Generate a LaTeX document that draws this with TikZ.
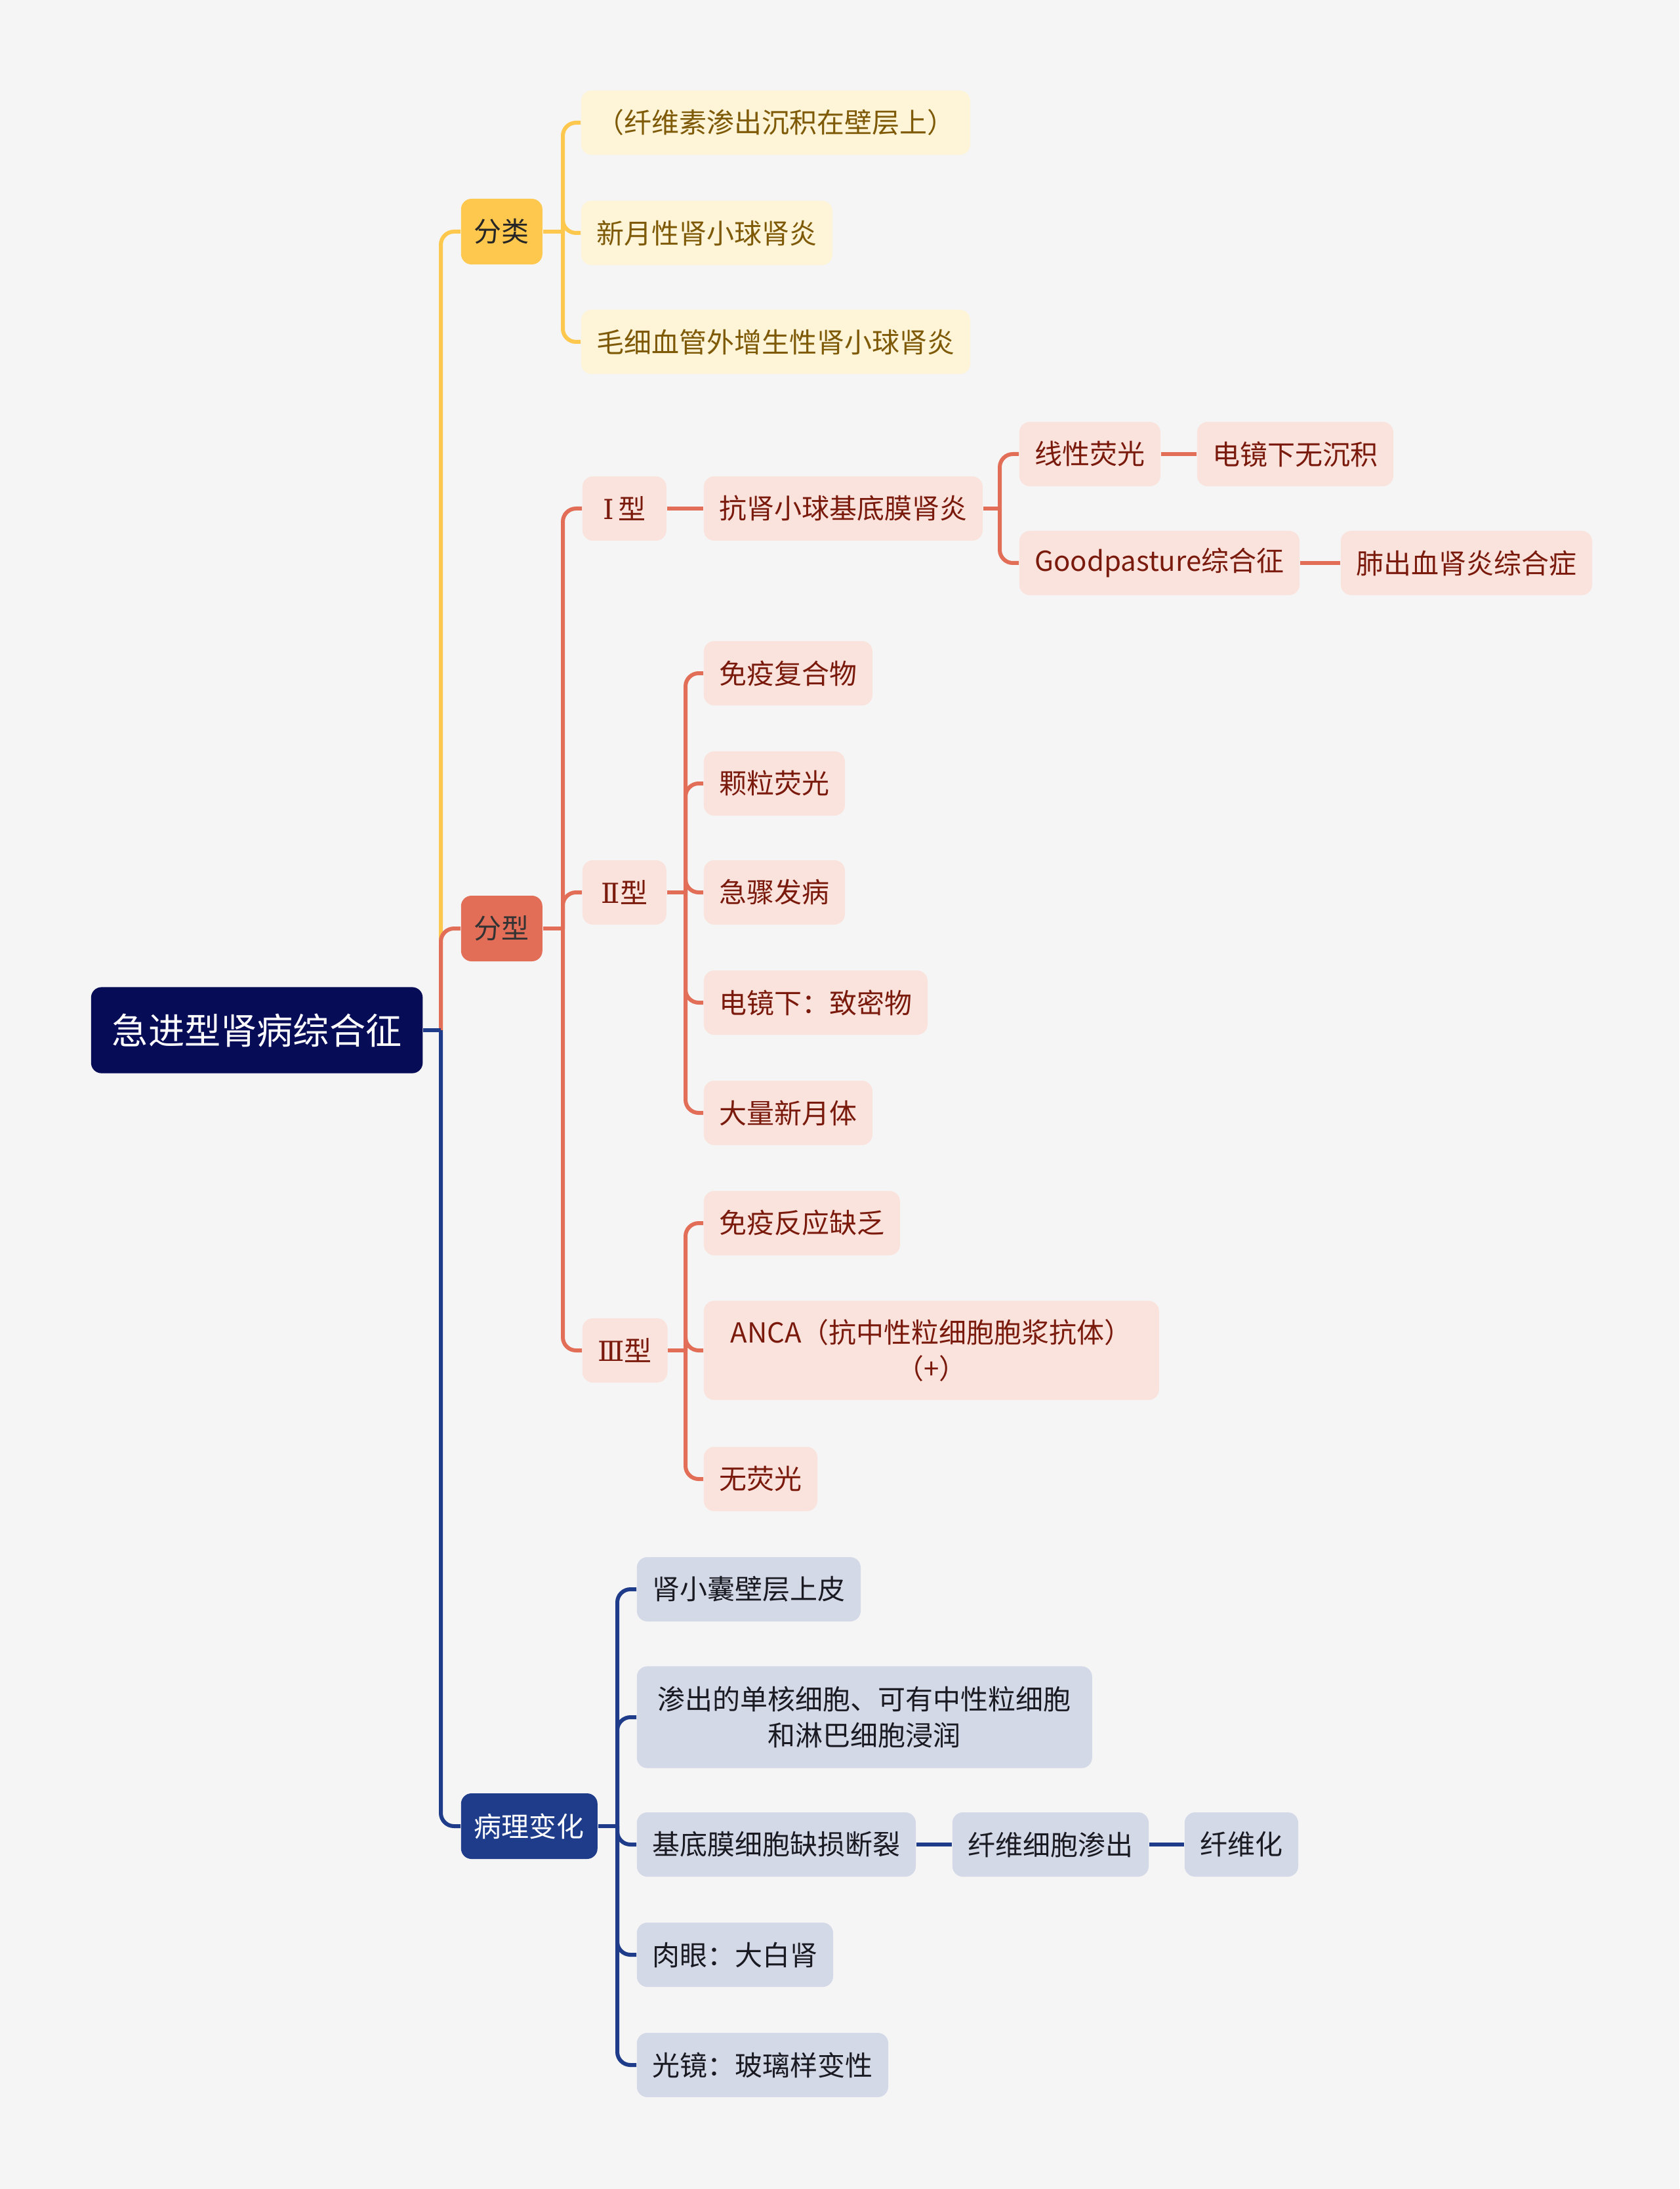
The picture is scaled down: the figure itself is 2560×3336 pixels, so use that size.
\documentclass[tikz,border=0pt]{standalone}
\usepackage{fontspec}
\setmainfont{Noto Sans CJK SC}
\newfontfamily\romfont{DejaVu Serif}
\definecolor{bgc}{HTML}{F5F5F5}
\definecolor{rootc}{HTML}{070C57}
\definecolor{ylc}{HTML}{FDC84D}
\definecolor{ylbox}{HTML}{FEF4D8}
\definecolor{yltext}{HTML}{7E5A06}
\definecolor{sac}{HTML}{E26E58}
\definecolor{sabox}{HTML}{FBE3DD}
\definecolor{satext}{HTML}{7A1A0C}
\definecolor{nvc}{HTML}{1E3C8A}
\definecolor{nvbox}{HTML}{D4D9E8}
\definecolor{nvtext}{HTML}{1A1A22}
\tikzset{
  rootbox/.style={fill=rootc, text=white, rounded corners=4pt, minimum height=32.8pt,
    minimum width=126pt, inner xsep=8pt, font=\fontsize{13.8}{16}\selectfont, anchor=west},
  lone/.style={rounded corners=4pt, minimum height=25pt, inner xsep=5pt,
    font=\fontsize{10.5}{13.8}\selectfont, anchor=west},
  ltwo/.style={rounded corners=4pt, minimum height=24.5pt, inner xsep=5.9pt,
    font=\fontsize{10.5}{13.8}\selectfont, anchor=west},
  ylb/.style={ltwo, fill=ylbox, text=yltext},
  sab/.style={ltwo, fill=sabox, text=satext},
  nvb/.style={ltwo, fill=nvbox, text=nvtext},
  typeb/.style={sab, minimum width=32pt},
  conn/.style={line width=1.5pt, rounded corners=5pt},
  ylline/.style={conn, draw=ylc},
  saline/.style={conn, draw=sac},
  nvline/.style={conn, draw=nvc},
}
\begin{document}
\begin{tikzpicture}[x=0.25pt, y=-0.25pt]
\fill[bgc] (0,0) rectangle (2560,3336);
\useasboundingbox (0,0) rectangle (2560,3336);

% root and level 1
\node[rootbox] (root) at (138,1570) {急进型肾病综合征};
\node[lone, fill=ylc, text=black!85] (fenlei) at (702,353) {分类};
\node[lone, fill=sac, text=black!80] (fenxing) at (702,1415) {分型};
\node[lone, fill=nvc, text=white] (bingli) at (702,2783) {病理变化};

% 分类 children
\node[ylb] (y1) at (885,187) {（纤维素渗出沉积在壁层上）};
\node[ylb] (y2) at (885,355) {新月性肾小球肾炎};
\node[ylb] (y3) at (885,521) {毛细血管外增生性肾小球肾炎};

% 分型 children
\node[typeb] (t1) at (887,775) {{\romfont Ⅰ}\,型};
\node[typeb] (t2) at (887,1360) {{\romfont Ⅱ}型};
\node[typeb] (t3) at (887,2058) {{\romfont Ⅲ}型};
\node[sab] (kang) at (1072,775) {抗肾小球基底膜肾炎};
\node[sab] (xian) at (1553,692) {线性荧光};
\node[sab] (good) at (1553,858) {Goodpasture综合征};
\node[sab] (dian) at (1824,692) {电镜下无沉积};
\node[sab] (fei) at (2043,858) {肺出血肾炎综合症};
\node[sab] (a1) at (1072,1026) {免疫复合物};
\node[sab] (a2) at (1072,1194) {颗粒荧光};
\node[sab] (a3) at (1072,1360) {急骤发病};
\node[sab] (a4) at (1072,1528) {电镜下：致密物};
\node[sab] (a5) at (1072,1696) {大量新月体};
\node[sab] (b1) at (1072,1864) {免疫反应缺乏};
\node[sab, minimum width=173.5pt, minimum height=37.8pt, align=center] (b2) at (1072,2058) {ANCA（抗中性粒细胞胞浆抗体）\\（+）};
\node[sab] (b3) at (1072,2254) {无荧光};

% 病理变化 children
\node[nvb] (c1) at (970,2422) {肾小囊壁层上皮};
\node[nvb, minimum width=173.5pt, minimum height=38.8pt, align=center] (c2) at (970,2617) {渗出的单核细胞、可有中性粒细胞\\和淋巴细胞浸润};
\node[nvb] (c3) at (970,2811) {基底膜细胞缺损断裂};
\node[nvb] (c4) at (970,2979) {肉眼：大白肾};
\node[nvb] (c5) at (970,3147) {光镜：玻璃样变性};
\node[nvb] (c6) at (1451,2811) {纤维细胞渗出};
\node[nvb] (c7) at (1805,2811) {纤维化};

% branch coordinates
\coordinate (trunk) at (672,1570);
\coordinate (bY) at (858,353);
\coordinate (bS) at (858,1415);
\coordinate (bK) at (1524,775);
\coordinate (bII) at (1045,1360);
\coordinate (bIII) at (1045,2058);
\coordinate (bN) at (941,2783);

% level-1 connectors
\draw[ylline] (trunk) |- (fenlei.west);
\draw[saline] (trunk) |- (fenxing.west);
\draw[nvline] (root.east) -- (trunk);
\draw[nvline] (trunk) |- (bingli.west);

% 分类
\draw[ylline] (fenlei.east) -- (bY);
\foreach \c in {y1,y2,y3} \draw[ylline] (bY) |- (\c.west);

% 分型
\draw[saline] (fenxing.east) -- (bS);
\foreach \c in {t1,t2,t3} \draw[saline] (bS) |- (\c.west);
\draw[saline] (t1.east) -- (kang.west);
\draw[saline] (kang.east) -- (bK);
\foreach \c in {xian,good} \draw[saline] (bK) |- (\c.west);
\draw[saline] (xian.east) -- (dian.west);
\draw[saline] (good.east) -- (fei.west);
\draw[saline] (t2.east) -- (bII);
\foreach \c in {a1,a2,a3,a4,a5} \draw[saline] (bII) |- (\c.west);
\draw[saline] (t3.east) -- (bIII);
\foreach \c in {b1,b2,b3} \draw[saline] (bIII) |- (\c.west);

% 病理变化
\draw[nvline] (bingli.east) -- (bN);
\foreach \c in {c1,c2,c3,c4,c5} \draw[nvline] (bN) |- (\c.west);
\draw[nvline] (c3.east) -- (c6.west);
\draw[nvline] (c6.east) -- (c7.west);
\end{tikzpicture}
\end{document}
